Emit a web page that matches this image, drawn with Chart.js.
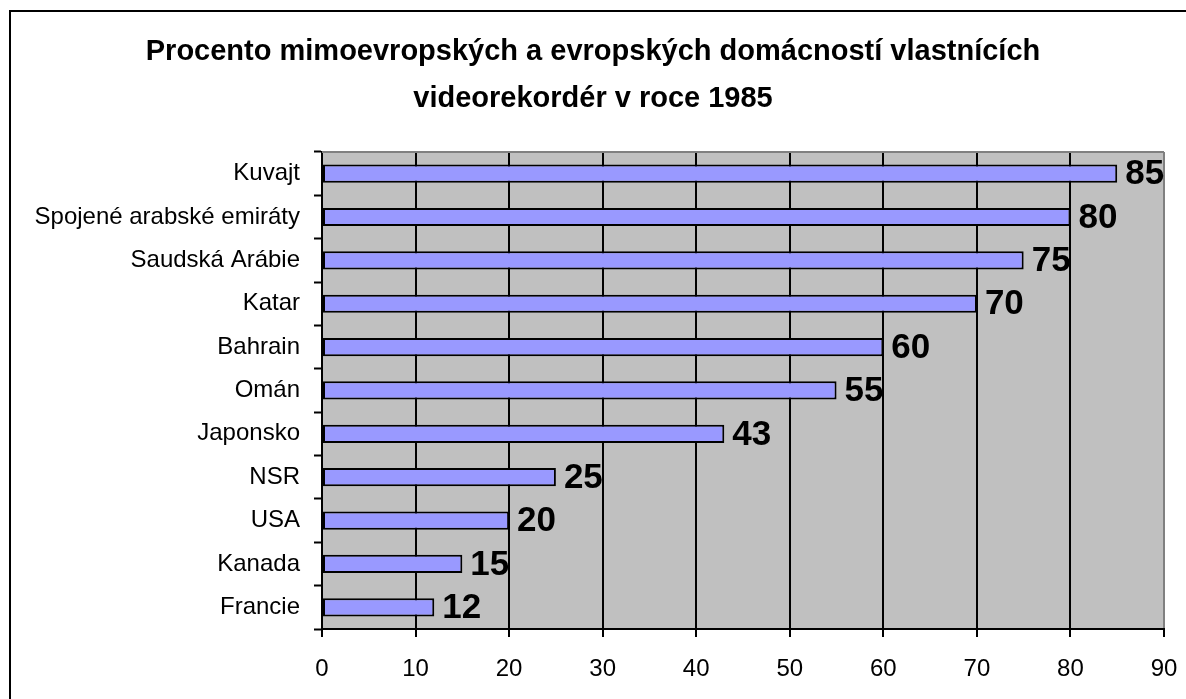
<!DOCTYPE html>
<html>
<head>
<meta charset="utf-8">
<script src="https://cdn.jsdelivr.net/npm/chart.js@4"></script>
<style>
html,body{margin:0;padding:0;background:#fff;}
#wrap{width:1186px;height:699px;position:relative;}
</style>
</head>
<body>
<div id="wrap"><canvas id="c" width="1186" height="699"></canvas></div>
<script>
const categories = ["Kuvajt","Spojené arabské emiráty","Saudská Arábie","Katar","Bahrain","Omán","Japonsko","NSR","USA","Kanada","Francie"];
const values = [85,80,75,70,60,55,43,25,20,15,12];
const xTicks = [0,10,20,30,40,50,60,70,80,90];
const titleLines = ["Procento mimoevropských a evropských domácností vlastnících","videorekordér v roce 1985"];

const FONT = "'Liberation Sans', Arial, sans-serif";

const framePlugin = {
  id: 'frame',
  beforeDraw(chart) {
    const {ctx, chartArea: a} = chart;
    ctx.save();
    ctx.fillStyle = '#ffffff';
    ctx.fillRect(0, 0, chart.width, chart.height);
    ctx.fillStyle = '#c0c0c0';
    ctx.fillRect(a.left, a.top, a.right - a.left, a.bottom - a.top);
    ctx.strokeStyle = '#000';
    ctx.lineWidth = 2;
    ctx.beginPath();
    ctx.moveTo(10, chart.height + 5);
    ctx.lineTo(10, 11);
    ctx.lineTo(chart.width + 5, 11);
    ctx.stroke();
    ctx.restore();
  },
  beforeDatasetsDraw(chart) {
    const {ctx, chartArea: a} = chart;
    ctx.save();
    ctx.strokeStyle = '#808080';
    ctx.lineWidth = 2;
    ctx.beginPath();
    ctx.moveTo(a.left, a.top);
    ctx.lineTo(a.right, a.top);
    ctx.stroke();
    ctx.restore();
  },
  afterDatasetsDraw(chart) {
    const {ctx} = chart;
    const meta = chart.getDatasetMeta(0);
    ctx.save();
    ctx.font = "bold 35px " + FONT;
    ctx.fillStyle = '#000';
    ctx.textAlign = 'left';
    ctx.textBaseline = 'middle';
    meta.data.forEach((bar, i) => {
      ctx.fillText(String(values[i]), bar.x + 8, bar.y + 1);
    });
    ctx.restore();
  }
};

new Chart(document.getElementById('c'), {
  type: 'bar',
  data: {
    labels: categories,
    datasets: [{
      data: values,
      backgroundColor: '#9999ff',
      borderColor: '#000000',
      borderWidth: 2,
      borderSkipped: false,
      categoryPercentage: 1,
      barPercentage: 0.42
    }]
  },
  options: {
    indexAxis: 'y',
    responsive: false,
    animation: false,
    layout: {padding: {left: 22, right: 22, top: 0, bottom: 0}},
    plugins: {
      legend: {display: false},
      tooltip: {enabled: false},
      title: {
        display: true,
        text: titleLines,
        color: '#000',
        font: {family: FONT, size: 29, weight: 'bold', lineHeight: 1.62},
        padding: {top: 29, bottom: 29}
      }
    },
    scales: {
      x: {
        min: 0, max: 90,
        afterBuildTicks(scale) { scale.ticks = xTicks.map(v => ({value: v})); },
        afterFit(scale) { scale.height = 70; scale.paddingLeft = 0; scale.paddingRight = 0; },
        grid: {
          color: (c) => (c.tick && c.tick.value === 90) ? '#808080' : '#000000',
          lineWidth: 2,
          drawTicks: true,
          tickLength: 8,
          tickColor: '#000000',
          tickWidth: 2
        },
        border: {display: true, color: '#000', width: 2},
        ticks: {color: '#000', font: {family: FONT, size: 24}, padding: 18, maxRotation: 0}
      },
      y: {
        afterFit(scale) { scale.width = 300; scale.paddingTop = 0; scale.paddingBottom = 0; },
        grid: {
          offset: true,
          drawOnChartArea: false,
          drawTicks: true,
          tickLength: 8,
          tickColor: '#000',
          tickWidth: 2
        },
        border: {display: true, color: '#000', width: 2},
        ticks: {color: '#000', font: {family: FONT, size: 24}, padding: 14, autoSkip: false}
      }
    }
  },
  plugins: [framePlugin]
});
</script>
</body>
</html>
